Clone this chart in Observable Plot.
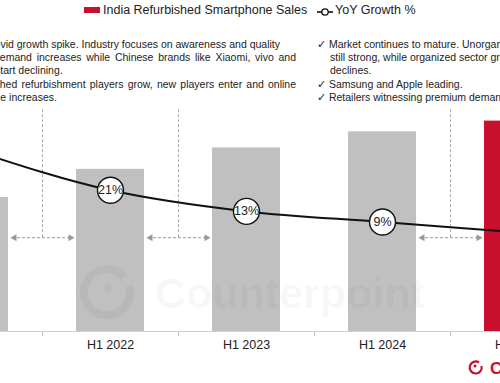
<!DOCTYPE html>
<html>
<head>
<meta charset="utf-8">
<script src="https://cdn.jsdelivr.net/npm/d3@7"></script>
<script src="https://cdn.jsdelivr.net/npm/@observablehq/plot@0.6"></script>
<style>
  body { margin: 0; background: #fff; font-family: "Liberation Sans", Arial, sans-serif; }
  #wrap { position: relative; width: 500px; height: 383px; overflow: hidden; background: #fff; }
  #chart { position: absolute; left: 0; top: 0; }
  .ov { position: absolute; white-space: nowrap; color: #222; }
  .note { font-size: 10.5px; line-height: 13px; height: 13px; }
  .just { text-align: justify; text-align-last: justify; white-space: normal; overflow: hidden; }
  .legend { font-size: 12.5px; line-height: 14px; }
  #wm, #logo { position: absolute; left: 0; top: 0; pointer-events: none; }
</style>
</head>
<body>
<div id="wrap">
  <div id="chart"></div>
  <svg id="wm" width="500" height="383">
    <g fill="none" stroke="rgba(0,0,0,0.04)" stroke-width="8">
      <path d="M 124 277 A 23 23 0 1 0 129 286"></path>
    </g>
    <circle cx="108" cy="288" r="4" fill="rgba(0,0,0,0.04)"></circle>
    <text x="155" y="308" font-family="Liberation Sans, Arial, sans-serif" font-weight="bold" font-size="43" fill="rgba(0,0,0,0.04)">Counterpoint</text>
  </svg>
  <div class="ov legend" style="left:84px;top:7px;width:16px;height:6px;background:#c8102e"></div>
  <div class="ov legend" style="left:103px;top:3px">India Refurbished Smartphone Sales</div>
  <svg class="ov" style="left:315px;top:6px" width="20" height="12">
    <line x1="2" y1="6" x2="18" y2="6" stroke="#111" stroke-width="1.6"></line>
    <circle cx="10" cy="6" r="3.2" fill="#fff" stroke="#111" stroke-width="1.3"></circle>
  </svg>
  <div class="ov legend" style="left:335px;top:3px">YoY Growth %</div>

  <div class="ov note" style="left:-13px;top:38px">Covid growth spike. Industry focuses on awareness and quality</div>
  <div class="ov note just" style="left:-6px;top:51px;width:302px">demand increases while Chinese brands like Xiaomi, vivo and</div>
  <div class="ov note" style="left:-5px;top:64px">start declining.</div>
  <div class="ov note just" style="left:-37px;top:78px;width:333px">Established refurbishment players grow, new players enter and online</div>
  <div class="ov note" style="left:-37px;top:91px">presence increases.</div>

  <div class="ov note" style="left:317px;top:38px">✓ Market continues to mature. Unorganized sector</div>
  <div class="ov note" style="left:330px;top:51px">still strong, while organized sector growth</div>
  <div class="ov note" style="left:330px;top:64px">declines.</div>
  <div class="ov note" style="left:317px;top:78px">✓ Samsung and Apple leading.</div>
  <div class="ov note" style="left:317px;top:91px">✓ Retailers witnessing premium demand.</div>

  <svg id="logo" width="500" height="383">
    <path d="M 479 362.5 A 6 6 0 1 0 481.5 366" fill="none" stroke="#c8102e" stroke-width="2.2"></path>
    <circle cx="475" cy="366" r="1.5" fill="#c8102e"></circle>
    <text x="490" y="374" font-family="Liberation Sans, Arial, sans-serif" font-weight="bold" font-size="17" fill="#c8102e">C</text>
  </svg>
</div>
<script>
// ---- data ----
const periods = ["H1 2021", "H1 2022", "H1 2023", "H1 2024", "H1 2025"];
const sales   = [100, 121, 137, 149, 157];   // relative index (no y-axis in source)
const growth  = [36, 21, 13, 9, 5];          // YoY growth %
const highlight = ["H1 2025"];
const labelled = ["H1 2022", "H1 2023", "H1 2024"];
const phaseStarts = ["H1 2022", "H1 2023", "H1 2025"]; // dashed phase dividers before these

const rows = periods.map((p, i) => ({period: p, sales: sales[i], growth: growth[i]}));
// secondary (growth) axis mapped onto the sales axis units
const g2y = d3.scaleLinear().domain([0, 100]).range([64, 261]);

const half = 68; // half a band step, to reach category boundaries

const chart = Plot.plot({
  width: 500,
  height: 383,
  marginTop: 0,
  marginLeft: 0,
  marginRight: 0,
  marginBottom: 52,
  style: {background: "transparent", fontFamily: "Liberation Sans, Arial, sans-serif"},
  x: {domain: periods, range: [-128, 620], paddingInner: 0.5, paddingOuter: 0.5, round: false, label: null},
  y: {domain: [0, 247], axis: null},
  marks: [
    Plot.barY(rows, {x: "period", y: "sales", fill: d => highlight.includes(d.period) ? "#c8102e" : "#c0c0c0"}),
    Plot.ruleY([0], {stroke: "#d0d0d0", strokeWidth: 1}),
    Plot.ruleX(periods.slice(0, 4), {x: d => d, dx: half, y1: 0, y2: -3.5, stroke: "#c8c8c8"}),
    Plot.axisX({tickSize: 0, tickPadding: 9, fontSize: 12.5, color: "#222"}),
    // phase dividers
    Plot.ruleX(phaseStarts, {x: d => d, dx: -half, y1: 70, y2: 166, stroke: "#aaa", strokeDasharray: "3,2", strokeWidth: 1}),
    Plot.ruleY(phaseStarts, {x1: d => d, x2: d => d, y: 70, dx: -half, insetLeft: 4, insetRight: 4, stroke: "#999", strokeDasharray: "3,2", strokeWidth: 1}),
    Plot.dot(phaseStarts, {x: d => d, y: 70, dx: -half - 28, symbol: "triangle", rotate: -90, r: 2.6, fill: "#999", stroke: "none"}),
    Plot.dot(phaseStarts, {x: d => d, y: 70, dx: -half + 28, symbol: "triangle", rotate: 90, r: 2.6, fill: "#999", stroke: "none"}),
    // growth line
    Plot.line(rows, {x: "period", y: d => g2y(d.growth), curve: "monotone-x", stroke: "#111", strokeWidth: 2}),
    Plot.dot(rows, {x: "period", y: d => g2y(d.growth), r: 13, fill: "#fff", stroke: "#111", strokeWidth: 1.4}),
    Plot.text(rows.filter(d => labelled.includes(d.period)), {x: "period", y: d => g2y(d.growth), text: d => d.growth + "%", fontSize: 12.5, fill: "#222"})
  ]
});
document.getElementById("chart").appendChild(chart);
</script>
</body>
</html>
